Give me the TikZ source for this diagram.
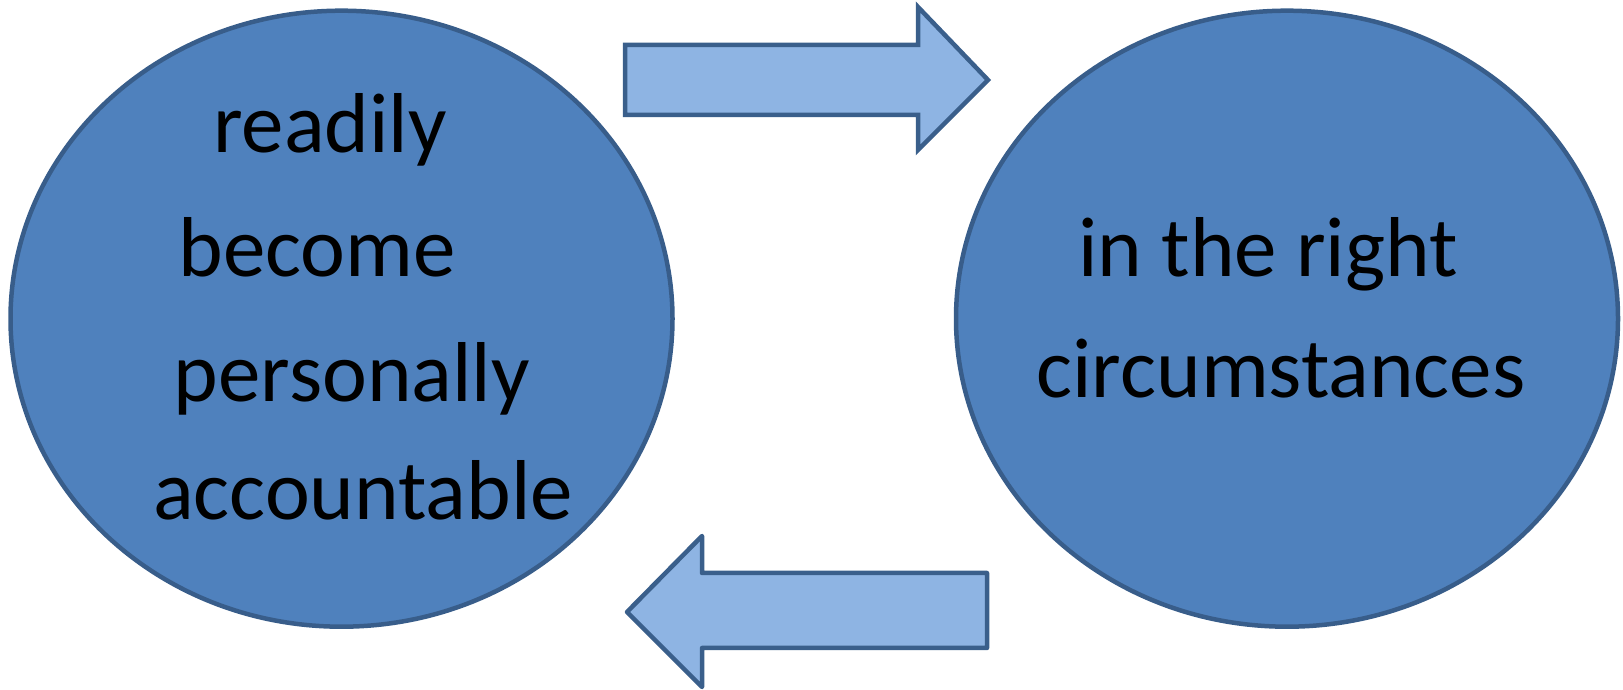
\documentclass[tikz,border=0pt]{standalone}
\usepackage{fontspec}
\setmainfont{Carlito}
\usetikzlibrary{shapes.geometric}
\definecolor{ellfill}{HTML}{4F81BD}
\definecolor{ellline}{HTML}{385D8A}
\definecolor{arrfill}{HTML}{8EB4E3}
\definecolor{arrline}{HTML}{3A5F8B}
\begin{document}
\begin{tikzpicture}[x=1pt,y=1pt,
  bubble/.style={ellipse, draw=ellline, fill=ellfill, line width=4.5pt, minimum width=662pt, minimum height=616pt, inner sep=0pt},
  fat/.style={draw=arrline, fill=arrfill, line width=4.5pt},
  lbl/.style={anchor=base, inner sep=0pt, font=\fontsize{85}{100}\selectfont, text=black}]
\useasboundingbox (0,0) rectangle (1623,690);
\node[bubble] (L) at (341.5,371.3) {};
\node[bubble] (R) at (1287,371.3) {};
\draw[fat, line join=miter] (625,645) -- (918,645) -- (918,683) -- (988,610) -- (918,540) -- (918,575) -- (625,575) -- cycle;
\draw[fat, line join=round] (987,117) -- (702,117) -- (702,154) -- (627,78) -- (702,3) -- (702,42) -- (987,42) -- cycle;
\node[lbl] (t1) at (330,537) {readily};
\node[lbl] (t2) at (317,413) {become};
\node[lbl] (t3) at (352,288) {personally};
\node[lbl] (t4) at (363,170) {accountable};
\node[lbl] (t5) at (1268,413) {in the right};
\node[lbl] (t6) at (1281,292) {circumstances};
\end{tikzpicture}
\end{document}
